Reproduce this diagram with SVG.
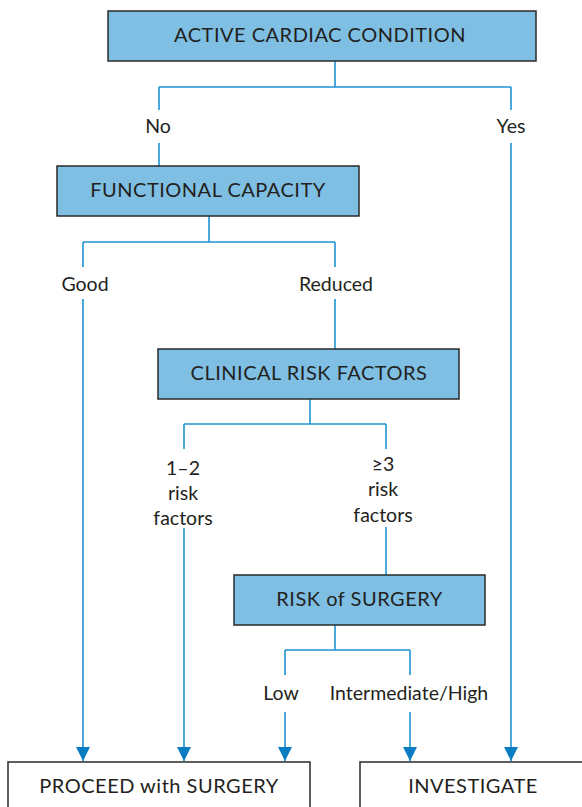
<svg xmlns="http://www.w3.org/2000/svg" width="582" height="807" viewBox="0 0 582 807">
<style>
.box{fill:#7fbfe3;stroke:#2a2a2a;stroke-width:1.5}
.out{fill:#ffffff;stroke:#2a2a2a;stroke-width:1.5}
.t{font-family:Lato,"Open Sans",sans-serif;font-size:19.5px;fill:#231f20;text-anchor:middle}
.b{font-size:20px;letter-spacing:0.5px}
.c{fill:none;stroke:#1f93d3;stroke-width:1.6}
</style>
<defs>
<marker id="ah" markerUnits="userSpaceOnUse" markerWidth="14" markerHeight="14" refX="14" refY="7" orient="auto" viewBox="0 0 14 14">
<path d="M0,0 L14,7 L0,14 z" fill="#0b7cc2"/>
</marker>
</defs>
<rect width="582" height="807" fill="#ffffff"/>
<g id="connectors">
<path class="c" d="M335 61 V87 M159 87 H511 M159 87 V110 M511 87 V110"/>
<path class="c" d="M159 143 V166"/>
<path class="c" d="M511 143 V761" marker-end="url(#ah)"/>
<path class="c" d="M209 216 V242 M83 242 H335 M83 242 V267 M335 242 V267"/>
<path class="c" d="M83 299 V761" marker-end="url(#ah)"/>
<path class="c" d="M335 299 V349"/>
<path class="c" d="M310 399 V424 M184 424 H386 M184 424 V449 M386 424 V449"/>
<path class="c" d="M184 528 V761" marker-end="url(#ah)"/>
<path class="c" d="M386 527 V575"/>
<path class="c" d="M335 625 V650 M285 650 H410 M285 650 V675 M410 650 V675"/>
<path class="c" d="M285 712 V761" marker-end="url(#ah)"/>
<path class="c" d="M410 712 V761" marker-end="url(#ah)"/>
</g>
<g id="labels">
<text class="t" x="158" y="133">No</text>
<text class="t" x="511" y="133">Yes</text>
<text class="t" x="85" y="291">Good</text>
<text class="t" x="336" y="291">Reduced</text>
<text class="t" x="183" y="475">1–2</text>
<text class="t" x="183" y="500">risk</text>
<text class="t" x="183" y="525">factors</text>
<text class="t" x="383" y="471">≥3</text>
<text class="t" x="383" y="496">risk</text>
<text class="t" x="383" y="522">factors</text>
<text class="t" x="281" y="700">Low</text>
<text class="t" x="409" y="700">Intermediate/High</text>
</g>
<g id="active">
<rect class="box" x="108" y="11" width="428" height="50"/>
<text class="t b" x="320" y="42">ACTIVE CARDIAC CONDITION</text>
</g>
<g id="functional">
<rect class="box" x="57" y="166" width="302" height="50"/>
<text class="t b" x="208" y="197">FUNCTIONAL CAPACITY</text>
</g>
<g id="clinical">
<rect class="box" x="158" y="349" width="301" height="50"/>
<text class="t b" x="309" y="380">CLINICAL RISK FACTORS</text>
</g>
<g id="risk">
<rect class="box" x="234" y="575" width="251" height="50"/>
<text class="t b" x="359.5" y="606">RISK of SURGERY</text>
</g>
<g id="proceed">
<rect class="out" x="8" y="762" width="302" height="60"/>
<text class="t b" x="159" y="793">PROCEED with SURGERY</text>
</g>
<g id="investigate">
<rect class="out" x="360" y="762" width="240" height="60"/>
<text class="t b" x="473" y="793">INVESTIGATE</text>
</g>
</svg>
